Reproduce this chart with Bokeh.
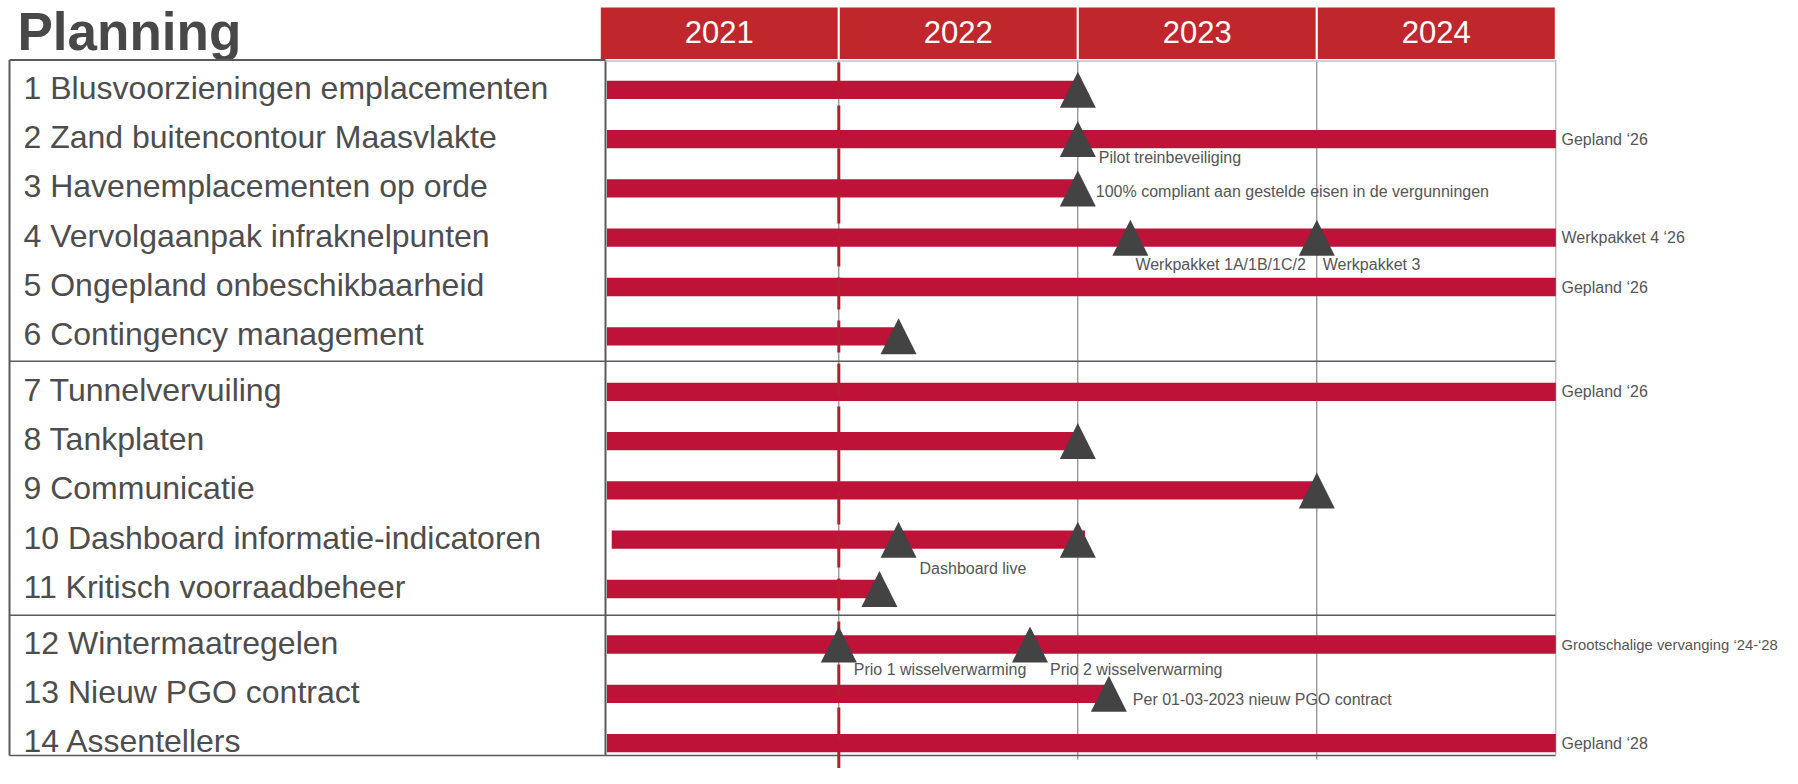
from bokeh.plotting import figure
from bokeh.models import Range1d, ColumnDataSource
from bokeh.core.properties import value
from bokeh.embed import file_html
from bokeh.resources import INLINE

# ---------------- data ----------------
TITLE = "Planning"
YEARS = [2021, 2022, 2023, 2024]
YEAR_LABELS = ["2021", "2022", "2023", "2024"]
TODAY = 2022.0

TASKS = [
    "1 Blusvoorzieningen emplacementen",
    "2 Zand buitencontour Maasvlakte",
    "3 Havenemplacementen op orde",
    "4 Vervolgaanpak infraknelpunten",
    "5 Ongepland onbeschikbaarheid",
    "6 Contingency management",
    "7 Tunnelvervuiling",
    "8 Tankplaten",
    "9 Communicatie",
    "10 Dashboard informatie-indicatoren",
    "11 Kritisch voorraadbeheer",
    "12 Wintermaatregelen",
    "13 Nieuw PGO contract",
    "14 Assentellers",
]
TASK_ROW = [1, 2, 3, 4, 5, 6, 7, 8, 9, 10, 11, 12, 13, 14]
TASK_SECTION = [0, 0, 0, 0, 0, 0, 1, 1, 1, 1, 1, 2, 2, 2]
BAR_START = [2021.03, 2021.03, 2021.03, 2021.03, 2021.03, 2021.03, 2021.03,
             2021.03, 2021.03, 2021.05, 2021.03, 2021.03, 2021.03, 2021.03]
BAR_END = [2023.0, 2025.0, 2023.0, 2025.0, 2025.0, 2022.25, 2025.0,
           2023.0, 2024.0, 2023.03, 2022.17, 2025.0, 2023.13, 2025.0]
END_NOTE = ["", "Gepland \u201826", "", "Werkpakket 4 \u201826", "Gepland \u201826", "",
            "Gepland \u201826", "", "", "", "", "Grootschalige vervanging \u201824-\u201828",
            "", "Gepland \u201828"]

MS_ROW = [1, 2, 3, 4, 4, 6, 8, 9, 10, 10, 11, 12, 12, 13]
MS_DATE = [2023.0, 2023.0, 2023.0, 2023.22, 2024.0, 2022.25, 2023.0, 2024.0,
           2022.25, 2023.0, 2022.17, 2022.0, 2022.8, 2023.13]
MS_LABEL = ["", "Pilot treinbeveiliging",
            "100% compliant aan gestelde eisen in de vergunningen",
            "Werkpakket 1A/1B/1C/2", "Werkpakket 3", "", "", "",
            "Dashboard live", "", "", "Prio 1 wisselverwarming",
            "Prio 2 wisselverwarming", "Per 01-03-2023 nieuw PGO contract"]

# ---------------- layout / style ----------------
W, H = 1782, 768
PX_PER_YEAR = 239.0
X2021 = 599.3          # screen x of 2021.0
PX_PER_ROW = 49.3
ROW1_Y = 89.3          # screen y of row 1
SECTION_GAP = 6.2 / PX_PER_ROW   # extra space between sections (row units)
# milestone label offsets (screen px) relative to the milestone
MS_DX = [0, 21, 18, 5, 6, 0, 0, 0, 21, 0, 0, 15, 20, 24]
MS_DY = [0, 18, 3, 27, 27, 0, 0, 0, 29, 0, 0, 25, 25, 6]
NOTE_SIZE = ["16px" if len(n) < 20 else "14.8px" for n in END_NOTE]

BAR_COLOR = "#BE1238"
HEAD_COLOR = "#C0272D"
TRI_COLOR = "#434343"
DASH_COLOR = "#B0202A"
TEXT_COLOR = "#4d4d4d"
NOTE_COLOR = "#555555"
LINE_COLOR = "#5a5a5a"
FONT = "Liberation Sans"

section_of = dict(zip(TASK_ROW, TASK_SECTION))
def ypos(row):
    return row + SECTION_GAP * section_of[row]

task_y = [ypos(r) for r in TASK_ROW]
ms_y = [ypos(r) for r in MS_ROW]

x_lo = 2021 - X2021 / PX_PER_YEAR
x_hi = 2021 + (W - X2021) / PX_PER_YEAR
y_top = 1 - ROW1_Y / PX_PER_ROW
y_bot = 1 + (H - ROW1_Y) / PX_PER_ROW

p = figure(width=W, height=H, output_backend="svg", toolbar_location=None,
           x_range=Range1d(x_lo, x_hi), y_range=Range1d(y_bot, y_top),
           x_axis_type=None, y_axis_type=None, min_border=0,
           outline_line_color=None, background_fill_color="white")
p.extra_x_ranges = {"px": Range1d(0, W)}
p.extra_y_ranges = {"px": Range1d(H, 0)}
p.xgrid.visible = False
p.ygrid.visible = False

BOX_L, BOX_COL, BOX_R, BOX_T, BOX_B = 9, 605, 1555, 59.5, 755
SEP = [360.7, 614.7]

# title
p.text(x=[17], y=[31], text=[TITLE], text_font=value(FONT), text_font_style="bold",
       text_font_size=value("53px"), text_color="#484848", text_baseline="middle",
       x_range_name="px", y_range_name="px")

# header
p.quad(left=YEARS, right=[y + 1 for y in YEARS], top=[6] * 4, bottom=[BOX_T] * 4,
       fill_color=HEAD_COLOR, line_color="white", line_width=2, y_range_name="px")
p.text(x=[y + 0.5 for y in YEARS], y=[31] * 4, text=YEAR_LABELS, text_font=value(FONT),
       text_font_size=value("31px"), text_color="white", text_align="center",
       text_baseline="middle", y_range_name="px")

# grid lines
p.segment(x0=YEARS[1:], x1=YEARS[1:], y0=[BOX_T] * 3, y1=[759] * 3,
          line_color="#6f6f6f", line_width=1, y_range_name="px")
p.segment(x0=[2025], x1=[2025], y0=[BOX_T], y1=[BOX_B], line_color="#a0a0a0",
          line_width=1, y_range_name="px")

# box lines (screen px)
p.segment(x0=[BOX_L, BOX_COL], x1=[BOX_L, BOX_COL], y0=[BOX_T, BOX_T], y1=[BOX_B, BOX_B],
          line_color=LINE_COLOR, line_width=2, x_range_name="px", y_range_name="px")
p.segment(x0=[BOX_L], x1=[BOX_COL], y0=[BOX_T], y1=[BOX_T], line_color=LINE_COLOR,
          line_width=2, x_range_name="px", y_range_name="px")
p.segment(x0=[BOX_COL], x1=[BOX_R], y0=[BOX_T + 1], y1=[BOX_T + 1], line_color="#c0c0c0",
          line_width=1.5, x_range_name="px", y_range_name="px")
p.segment(x0=[BOX_L] * 3, x1=[BOX_R] * 3, y0=SEP + [BOX_B], y1=SEP + [BOX_B],
          line_color=LINE_COLOR, line_width=1.6, x_range_name="px", y_range_name="px")

# bars
p.hbar(y=task_y, left=BAR_START, right=BAR_END, height=18.3 / PX_PER_ROW,
       fill_color=BAR_COLOR, line_color=None)

# today line
p.segment(x0=[TODAY], x1=[TODAY], y0=[62], y1=[H], line_color=DASH_COLOR, line_width=3,
          line_dash="32 11", y_range_name="px")

# milestones (triangles)
hw = 18 / PX_PER_YEAR
hh = 18 / PX_PER_ROW
p.patches(xs=[[d - hw, d + hw, d] for d in MS_DATE],
          ys=[[y + hh, y + hh, y - hh] for y in ms_y],
          fill_color=TRI_COLOR, line_color=None)

# milestone labels
ms_src = ColumnDataSource(dict(x=MS_DATE, y=ms_y, t=MS_LABEL, dx=MS_DX, dy=MS_DY))
p.text(x="x", y="y", text="t", x_offset="dx", y_offset="dy", source=ms_src,
       text_font=value(FONT), text_font_size=value("16px"), text_color=NOTE_COLOR,
       text_baseline="middle", text_align="left")

# task labels
p.text(x=[23] * len(TASKS), y=task_y, text=TASKS, text_font=value(FONT),
       text_font_size=value("32px"), text_color=TEXT_COLOR, text_baseline="middle",
       text_align="left", y_offset=-2, x_range_name="px")

# end notes
note_src = ColumnDataSource(dict(x=[1561] * len(END_NOTE), y=task_y, t=END_NOTE,
                                 fs=NOTE_SIZE))
p.text(x="x", y="y", text="t", text_font_size="fs", source=note_src,
       text_font=value(FONT), text_color=NOTE_COLOR, text_baseline="middle",
       text_align="left", x_range_name="px")

open("out.html", "w").write(file_html(p, INLINE))
